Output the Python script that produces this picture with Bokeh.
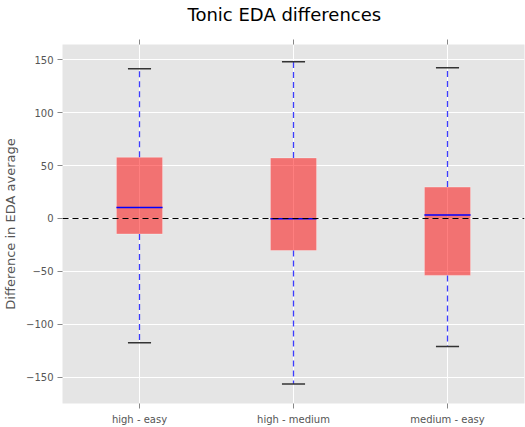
from bokeh.plotting import figure
from bokeh.models import (FactorRange, Range1d, Span, FixedTicker, ColumnDataSource,
                          CategoricalAxis, CustomJSTickFormatter)
from bokeh.transform import dodge
from bokeh.embed import file_html
from bokeh.resources import INLINE

categories = ["high - easy", "high - medium", "medium - easy"]
whisker_low = [-117.2, -156.2, -120.9]
q1 = [-14.7, -30.3, -53.7]
median = [10.3, -0.3, 3.4]
q3 = [57.8, 57.2, 29.7]
whisker_high = [141.2, 148.0, 142.2]
y_ticks = [-150, -100, -50, 0, 50, 100, 150]

src = ColumnDataSource(dict(cat=categories, lo=whisker_low, q1=q1, med=median,
                            q3=q3, hi=whisker_high))

FONT = "DejaVu Sans"
GRAY = "#555555"

p = figure(x_range=FactorRange(*categories, range_padding=0),
           y_range=Range1d(-174.6, 164.2),
           width=525, height=427, output_backend="svg", toolbar_location=None,
           title="Tonic EDA differences",
           min_border_left=61, min_border_right=1, min_border_top=42, min_border_bottom=24)

p.background_fill_color = "#E5E5E5"
p.border_fill_color = "white"
p.outline_line_color = None
p.xgrid.grid_line_color = "white"
p.ygrid.grid_line_color = "white"
p.xgrid.grid_line_width = 1
p.ygrid.grid_line_width = 1

p.title.text_font = FONT
p.title.text_font_style = "normal"
p.title.text_font_size = "18px"
p.title.align = "left"
p.title.offset = 125
p.title.text_color = "black"
p.title.standoff = 2

# boxes
p.vbar(x="cat", top="q3", bottom="q1", width=0.3, source=src,
       fill_color="red", fill_alpha=0.5, line_color="white", line_alpha=0.35, line_width=1)

# whiskers
p.segment(x0="cat", y0="q3", x1="cat", y1="hi", source=src,
          line_color="#3c3cff", line_width=1.3, line_dash="6 4")
p.segment(x0="cat", y0="q1", x1="cat", y1="lo", source=src,
          line_color="#3c3cff", line_width=1.3, line_dash="6 4")

# caps
left_c = dodge("cat", -0.075, range=p.x_range)
right_c = dodge("cat", 0.075, range=p.x_range)
p.segment(x0=left_c, y0="hi", x1=right_c, y1="hi", source=src,
          line_color="#333333", line_width=1.5)
p.segment(x0=left_c, y0="lo", x1=right_c, y1="lo", source=src,
          line_color="#333333", line_width=1.5)

# medians
left_m = dodge("cat", -0.15, range=p.x_range)
right_m = dodge("cat", 0.15, range=p.x_range)
p.segment(x0=left_m, y0="med", x1=right_m, y1="med", source=src,
          line_color="blue", line_width=1.5)

# zero line
p.add_layout(Span(location=0, dimension="width", line_color="black",
                  line_dash="6 4", line_width=1.2))

# axes
for ax in (p.xaxis[0], p.yaxis[0]):
    ax.axis_line_color = None
    ax.major_tick_line_color = "#888888"
    ax.major_tick_out = 5
    ax.major_tick_in = 0
    ax.minor_tick_line_color = None
    ax.major_label_text_font = FONT
    ax.major_label_text_font_size = "10px"
    ax.major_label_text_color = GRAY

p.yaxis.ticker = FixedTicker(ticks=y_ticks)
p.yaxis.major_label_overrides = {t: (str(t).replace("-", "\u2212")) for t in y_ticks}
p.yaxis.axis_label = "Difference in EDA average"
p.yaxis.axis_label_text_font = FONT
p.yaxis.axis_label_text_font_style = "normal"
p.yaxis.axis_label_text_font_size = "13px"
p.yaxis.axis_label_text_color = GRAY
p.yaxis.major_label_standoff = 4

# top tick marks (no labels), as matplotlib draws ticks on the top edge too
top_axis = CategoricalAxis(axis_line_color=None, major_tick_line_color="#888888",
                           major_tick_out=5, major_tick_in=0, minor_tick_line_color=None,
                           formatter=CustomJSTickFormatter(code="return ''"))
p.add_layout(top_axis, "above")

# invisible spacer between the top ticks and the title
spacer_axis = CategoricalAxis(axis_line_color=None, major_tick_line_color=None,
                              major_tick_out=14, major_tick_in=0, minor_tick_line_color=None,
                              formatter=CustomJSTickFormatter(code="return ''"))
p.add_layout(spacer_axis, "above")

open("out.html", "w").write(file_html(p, INLINE))
